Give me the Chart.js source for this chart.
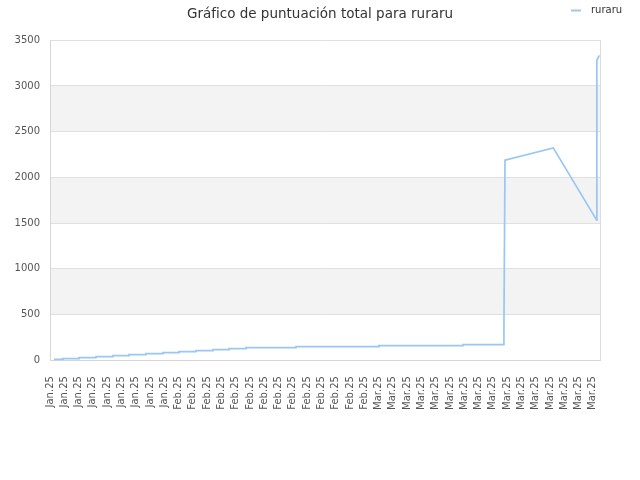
<!DOCTYPE html>
<html lang="es">
<head>
<meta charset="UTF-8">
<title>Gráfico de puntuación total para ruraru</title>
<script src="https://cdn.jsdelivr.net/npm/chart.js"></script>
<style>
  html, body { margin: 0; padding: 0; background: #fff; }
</style>
</head>
<body>
<canvas id="scoreChart" width="640" height="480"></canvas>
<script>
const playerName = 'ruraru';

// days counted from 14 Jan 2025, total score at that moment
const days = [
  0.56, 1.82, 1.82, 4.06, 4.06, 6.44, 6.44, 8.82, 8.82, 11.06, 11.06,
  13.44, 13.44, 15.82, 15.82, 18.06, 18.06, 20.44, 20.44, 22.82, 22.82,
  25.06, 25.06, 27.44, 27.44, 34.44, 34.44, 46.06, 46.06, 57.82, 57.82,
  63.5, 63.55, 63.7, 70.46, 76.54, 76.56, 76.9
];
const scores = [
  8, 8, 16, 16, 27, 27, 38, 38, 49, 49, 60,
  60, 71, 71, 82, 82, 93, 93, 104, 104, 115,
  115, 126, 126, 137, 137, 148, 148, 159, 159, 170,
  170, 360, 2187, 2322, 1531, 3280, 3335
];

// one label every two days
const tickLabels = [
  'Jan.25', 'Jan.25', 'Jan.25', 'Jan.25', 'Jan.25', 'Jan.25', 'Jan.25', 'Jan.25', 'Jan.25',
  'Feb.25', 'Feb.25', 'Feb.25', 'Feb.25', 'Feb.25', 'Feb.25', 'Feb.25',
  'Feb.25', 'Feb.25', 'Feb.25', 'Feb.25', 'Feb.25', 'Feb.25', 'Feb.25',
  'Mar.25', 'Mar.25', 'Mar.25', 'Mar.25', 'Mar.25', 'Mar.25', 'Mar.25', 'Mar.25',
  'Mar.25', 'Mar.25', 'Mar.25', 'Mar.25', 'Mar.25', 'Mar.25', 'Mar.25', 'Mar.25'
];
const dayMax = 77;
const scoreMax = 3500;
const scoreStep = 500;

Chart.defaults.font.family = '"DejaVu Sans", sans-serif';
Chart.defaults.font.size = 10;
Chart.defaults.color = '#555';

// grey bands between every other pair of y grid lines + right border
const bands = {
  id: 'bands',
  beforeDraw(chart) {
    const { ctx, chartArea: a, scales: { y } } = chart;
    ctx.save();
    ctx.fillStyle = '#f3f3f3';
    for (let i = 1; i + 1 < y.ticks.length; i += 2) {
      const top = y.getPixelForValue(y.ticks[i + 1].value);
      const bottom = y.getPixelForValue(y.ticks[i].value);
      ctx.fillRect(a.left, top, a.right - a.left, bottom - top);
    }
    ctx.restore();
  },
  afterDraw(chart) {
    const { ctx, chartArea: a } = chart;
    ctx.save();
    ctx.strokeStyle = '#dcdcdc';
    ctx.lineWidth = 1;
    ctx.beginPath();
    ctx.moveTo(a.right + 0.5, a.top);
    ctx.lineTo(a.right + 0.5, a.bottom);
    ctx.stroke();
    ctx.restore();
  }
};

// legend drawn in the title row, top right
const topLegend = {
  id: 'topLegend',
  afterDraw(chart) {
    const { ctx } = chart;
    const ds = chart.data.datasets[0];
    const x = chart.width - 69, y = 10.5;
    ctx.save();
    ctx.strokeStyle = ds.borderColor;
    ctx.lineWidth = 2;
    ctx.beginPath();
    ctx.moveTo(x, y);
    ctx.lineTo(x + 10, y);
    ctx.stroke();
    ctx.fillStyle = '#333';
    ctx.font = '10px "DejaVu Sans", sans-serif';
    ctx.textBaseline = 'middle';
    ctx.fillText(ds.label, x + 20, y);
    ctx.restore();
  }
};

new Chart(document.getElementById('scoreChart'), {
  type: 'line',
  data: {
    datasets: [{
      label: playerName,
      data: days.map((d, i) => ({ x: d, y: scores[i] })),
      borderColor: '#99c6f4',
      borderWidth: 1.7,
      pointRadius: 0,
      fill: false,
      tension: 0
    }]
  },
  options: {
    responsive: false,
    animation: false,
    devicePixelRatio: 1,
    layout: { padding: { left: 0, right: 0, bottom: 62, top: 0 } },
    plugins: {
      legend: { display: false },
      tooltip: { enabled: false },
      title: {
        display: true,
        text: 'Gráfico de puntuación total para ' + playerName,
        color: '#333',
        font: { size: 13.5, weight: 'normal' },
        padding: { top: 6, bottom: 18 }
      }
    },
    scales: {
      x: {
        type: 'linear',
        min: 0,
        max: dayMax,
        bounds: 'data',
        afterBuildTicks(scale) {
          scale.ticks = tickLabels.map((_, i) => ({ value: i * 2 }));
        },
        afterFit(scale) {
          scale.paddingRight = 40;
        },
        ticks: {
          autoSkip: false,
          maxRotation: 90,
          minRotation: 90,
          padding: 8,
          callback: (v) => tickLabels[Math.round(v / 2)]
        },
        grid: { display: false },
        border: { display: true, color: '#d6d6d6' }
      },
      y: {
        min: 0,
        max: scoreMax,
        afterFit(scale) {
          scale.width = 50;
        },
        ticks: { stepSize: scoreStep, padding: 10, callback: (v) => String(v) },
        grid: { color: '#e0e0e0', drawTicks: false },
        border: { display: true, color: '#d6d6d6' }
      }
    }
  },
  plugins: [bands, topLegend]
});
</script>
</body>
</html>
